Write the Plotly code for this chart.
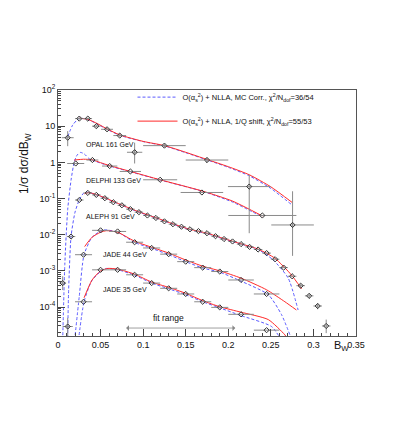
import plotly.graph_objects as go

# ---- data ----
# OPAL 161 GeV
opal_x = [0.0114, 0.025, 0.035, 0.045, 0.0576, 0.0725, 0.090, 0.125, 0.175, 0.2246, 0.2755]
opal_y = [4.8, 16.2, 16.2, 10.0, 8.2, 5.5, 1.9, 2.9, 1.16, 0.214, 0.0186]
opal_xerr = [0.007, 0.005, 0.005, 0.005, 0.007, 0.0075, 0.009, 0.025, 0.025, 0.025, 0.025]
opal_yup = [2.5, 1.0, 1.0, 0.8, 0.6, 0.4, 1.6, 0.3, 0.2, 0.24, 0.14]
opal_ydn = [2.0, 1.0, 1.0, 0.8, 0.6, 0.4, 0.97, 0.3, 0.2, 0.203, 0.016]

# DELPHI 133 GeV
delphi_x = [0.0208, 0.0404, 0.0607, 0.085, 0.120, 0.169, 0.240]
delphi_y = [0.93, 1.16, 0.79, 0.56, 0.33, 0.147, 0.034]
delphi_xerr = [0.01, 0.007, 0.009, 0.0125, 0.02, 0.025, 0.04]

# ALEPH 91 GeV
aleph_x = [0.0055, 0.0114, 0.0153, 0.025, 0.035, 0.045, 0.055, 0.065, 0.075, 0.085, 0.095,
           0.105, 0.115, 0.125, 0.135, 0.145, 0.155, 0.165, 0.175, 0.185, 0.195, 0.205,
           0.215, 0.225, 0.235, 0.245, 0.255, 0.265, 0.275, 0.285, 0.295, 0.305, 0.315]
aleph_y = [4.6e-4, 2.9e-5, 0.0089, 0.091, 0.143, 0.126, 0.102, 0.079, 0.065, 0.051, 0.042,
           0.034, 0.029, 0.0234, 0.0195, 0.0166, 0.0141, 0.0126, 0.011, 0.0091, 0.0076, 0.0065,
           0.0055, 0.0046, 0.0039, 0.0031, 0.0021, 0.00123, 0.00071, 0.00039, 2.04e-4, 1.07e-4, 3.0e-5]
aleph_xerr = [0.004, 0.006, 0.005, 0.005, 0.005, 0.005, 0.005, 0.005, 0.005, 0.005, 0.005,
              0.005, 0.005, 0.005, 0.005, 0.005, 0.005, 0.005, 0.005, 0.005, 0.005, 0.005,
              0.005, 0.005, 0.005, 0.005, 0.005, 0.005, 0.005, 0.005, 0.005, 0.005, 0.005]
aleph_yup = [2.5e-4, 2.1e-5, 0, 0, 0, 0, 0, 0, 0, 0, 0,
             0, 0, 0, 0, 0, 0, 0, 0, 0, 0, 0,
             0, 0, 0, 0, 0, 0, 0, 4e-5, 3e-5, 2e-5, 1.5e-5]
aleph_ydn = [1.65e-4, 1.3e-5, 0, 0, 0, 0, 0, 0, 0, 0, 0,
             0, 0, 0, 0, 0, 0, 0, 0, 0, 0, 0,
             0, 0, 0, 0, 0, 0, 0, 4e-5, 3e-5, 2e-5, 1.1e-5]

# JADE 44 / 35 GeV
jade_x = [0.03, 0.05, 0.07, 0.09, 0.11, 0.13, 0.15, 0.17, 0.19, 0.215, 0.245]
jade_xerr = [0.01, 0.01, 0.01, 0.01, 0.01, 0.01, 0.01, 0.01, 0.01, 0.015, 0.015]
jade44_y = [0.0028, 0.0132, 0.0123, 0.0062, 0.0043, 0.0029, 0.0018, 0.00123, 0.00096, 0.00056, 0.00023]
jade35_y = [1.4e-4, 1.07e-3, 1.07e-3, 7.8e-4, 4.6e-4, 3.3e-4, 2.3e-4, 1.4e-4, 9.8e-5, 6.3e-5, 2.3e-5]

# fit curves: O(as2)+NLLA, 1/Q shift (red)
opal_red_x = [0.025, 0.035, 0.047, 0.058, 0.0725, 0.1, 0.125, 0.15, 0.175, 0.2, 0.225, 0.25, 0.275]
opal_red_y = [16.6, 15.5, 11.5, 8.3, 5.75, 3.8, 2.9, 1.9, 1.2, 0.76, 0.45, 0.21, 0.078]
delphi_red_x = [0.019, 0.03, 0.04, 0.05, 0.06, 0.085, 0.12, 0.17, 0.205, 0.24]
delphi_red_y = [1.16, 1.22, 1.18, 0.98, 0.82, 0.56, 0.33, 0.16, 0.085, 0.033]
aleph_red_x = [0.031, 0.036, 0.045, 0.055, 0.075, 0.095, 0.115, 0.135, 0.155, 0.175, 0.195,
               0.215, 0.235, 0.2547, 0.274, 0.286]
aleph_red_y = [0.135, 0.146, 0.129, 0.105, 0.066, 0.043, 0.0295, 0.02, 0.0141, 0.011, 0.0078,
               0.0056, 0.004, 0.00224, 0.00078, 0.00032]
jade44_red_x = [0.0313, 0.04, 0.05, 0.0568, 0.07, 0.09, 0.11, 0.13, 0.15, 0.17, 0.19, 0.215,
                0.245, 0.2665, 0.280]
jade44_red_y = [0.0047, 0.0085, 0.0117, 0.0129, 0.0117, 0.0066, 0.0045, 0.0031, 0.002, 0.00135,
                0.001, 0.00063, 0.0003, 0.00014, 8.3e-5]
jade35_red_x = [0.0306, 0.04, 0.05, 0.0588, 0.07, 0.09, 0.11, 0.13, 0.15, 0.17, 0.19, 0.215,
                0.247, 0.2665, 0.272]
jade35_red_y = [1.8e-4, 5.6e-4, 1.0e-3, 1.17e-3, 1.12e-3, 8.1e-4, 4.9e-4, 3.5e-4, 2.4e-4, 1.5e-4,
                1.02e-4, 7.2e-5, 4.5e-5, 1.7e-5, 1.1e-5]

# fit curves: O(as2)+NLLA, MC corr. (blue dashed)
opal_blue_x = [0.0114, 0.0173, 0.025, 0.035, 0.047, 0.058, 0.0725, 0.1, 0.125, 0.15, 0.175,
               0.2, 0.225, 0.25, 0.275]
opal_blue_y = [5.1, 10.8, 16.5, 15.3, 11.2, 8.1, 5.6, 3.75, 2.85, 1.85, 1.17, 0.73, 0.42, 0.19, 0.066]
delphi_blue_x = [0.0055, 0.008, 0.0114, 0.0153, 0.019, 0.0225, 0.0265, 0.031, 0.0368, 0.045,
                 0.06, 0.085, 0.12, 0.17, 0.205, 0.24]
delphi_blue_y = [1.2e-5, 1.5e-3, 0.05, 0.32, 1.0, 1.6, 1.88, 1.7, 1.25, 1.05, 0.8, 0.55, 0.325,
                 0.158, 0.08, 0.031]
aleph_blue_x = [0.0112, 0.0125, 0.0153, 0.02, 0.025, 0.03, 0.034, 0.045, 0.055, 0.075, 0.095,
                0.115, 0.135, 0.155, 0.175, 0.195, 0.215, 0.235, 0.2528, 0.2704, 0.282]
aleph_blue_y = [1.0e-5, 3.0e-4, 0.0089, 0.042, 0.092, 0.14, 0.15, 0.127, 0.103, 0.065, 0.042,
                0.029, 0.0196, 0.0138, 0.0107, 0.0076, 0.0055, 0.0039, 0.002, 0.00063, 8.3e-5]
jade44_blue_x = [0.0195, 0.025, 0.0306, 0.04, 0.053, 0.07, 0.09, 0.11, 0.13, 0.15, 0.17, 0.19,
                 0.215, 0.247, 0.2625, 0.2724]
jade44_blue_y = [1.2e-5, 2.0e-4, 0.0028, 0.0085, 0.0135, 0.0118, 0.0061, 0.0042, 0.0028, 0.0018,
                 0.0012, 0.00092, 0.00052, 0.00022, 6.2e-5, 1.7e-5]
jade35_blue_x = [0.024, 0.0306, 0.04, 0.055, 0.07, 0.09, 0.11, 0.13, 0.15, 0.17, 0.19, 0.215,
                 0.2508, 0.2625]
jade35_blue_y = [1.2e-5, 1.4e-4, 5.5e-4, 1.15e-3, 1.08e-3, 7.6e-4, 4.6e-4, 3.2e-4, 2.2e-4, 1.4e-4,
                 9.5e-5, 5.8e-5, 2.9e-5, 1.2e-5]

# labels
set_labels = ['OPAL 161 GeV', 'DELPHI 133 GeV', 'ALEPH 91 GeV', 'JADE 44 GeV', 'JADE 35 GeV']
label_x = [0.0306, 0.0306, 0.0306, 0.051, 0.051]
label_logy = [0.5, -0.5, -1.5, -2.54, -3.52]
legend_blue = 'O(α<sub>s</sub><sup>2</sup>) + NLLA, MC Corr., χ<sup>2</sup>/N<sub>dof</sub>=36/54'
legend_red = 'O(α<sub>s</sub><sup>2</sup>) + NLLA, 1/Q shift, χ<sup>2</sup>/N<sub>dof</sub>=55/53'
fit_range = [0.08, 0.21]

x_ticks = [0, 0.05, 0.1, 0.15, 0.2, 0.25, 0.3, 0.35]
x_ticktext = ['0', '0.05', '0.1', '0.15', '0.2', '0.25', '0.3', '0.35']
y_ticks = [1e-4, 1e-3, 1e-2, 1e-1, 1, 10, 100]
y_ticktext = ['10<sup>-4</sup>', '10<sup>-3</sup>', '10<sup>-2</sup>', '10<sup>-1</sup>',
              '1', '10', '10<sup>2</sup>']

RED = '#ff2a2a'
BLUE = '#5a5aff'
FONT = 'Liberation Sans, Arial, sans-serif'

fig = go.Figure()

blue_curves = [(opal_blue_x, opal_blue_y), (delphi_blue_x, delphi_blue_y), (aleph_blue_x, aleph_blue_y),
               (jade44_blue_x, jade44_blue_y), (jade35_blue_x, jade35_blue_y)]
red_curves = [(opal_red_x, opal_red_y), (delphi_red_x, delphi_red_y), (aleph_red_x, aleph_red_y),
              (jade44_red_x, jade44_red_y), (jade35_red_x, jade35_red_y)]

for i, (cx, cy) in enumerate(blue_curves):
    fig.add_trace(go.Scatter(x=cx, y=cy, mode='lines',
                             line=dict(color=BLUE, width=1, dash='3px,2px', shape='spline', smoothing=0.6),
                             name=legend_blue, legendgroup='blue', showlegend=(i == 0)))
for i, (cx, cy) in enumerate(red_curves):
    fig.add_trace(go.Scatter(x=cx, y=cy, mode='lines',
                             line=dict(color=RED, width=1, shape='spline', smoothing=0.6),
                             name=legend_red, legendgroup='red', showlegend=(i == 0)))


def add_points(x, y, xerr, yup=None, ydn=None):
    ey = dict(visible=False)
    if yup is not None:
        ey = dict(type='data', symmetric=False, array=yup, arrayminus=ydn, color='#8a8a8a', thickness=1, width=0)
    fig.add_trace(go.Scatter(x=x, y=y, mode='markers', showlegend=False,
                             marker=dict(symbol='diamond-open', size=4, color='#333333', line=dict(width=1)),
                             error_x=dict(type='data', array=xerr, color='#8a8a8a', thickness=1, width=0),
                             error_y=ey))


add_points(opal_x, opal_y, opal_xerr, opal_yup, opal_ydn)
add_points(delphi_x, delphi_y, delphi_xerr)
add_points(aleph_x, aleph_y, aleph_xerr, aleph_yup, aleph_ydn)
add_points(jade_x, jade44_y, jade_xerr)
add_points(jade_x, jade35_y, jade_xerr)

for txt, lx, ly in zip(set_labels, label_x, label_logy):
    fig.add_annotation(x=lx, y=ly, text=txt, showarrow=False, xanchor='left', yanchor='middle',
                       font=dict(family=FONT, size=7, color='#111111'))

# fit range arrow
fig.add_annotation(x=fit_range[0], y=-4.58, ax=fit_range[1], ay=-4.58, axref='x', ayref='y',
                   text='', showarrow=True, arrowside='end+start', arrowhead=1, arrowsize=1.2,
                   arrowwidth=0.8, arrowcolor='#888888')
fig.add_annotation(x=0.13, y=-4.3, text='fit range', showarrow=False,
                   font=dict(family=FONT, size=8.5, color='#111111'))

# axis titles
fig.add_annotation(xref='paper', yref='paper', x=-0.11, y=0.7, xanchor='center', yanchor='middle',
                   text='1/σ dσ/dB<sub>W</sub>', textangle=-90, showarrow=False,
                   font=dict(family=FONT, size=12, color='#111111'))
fig.add_annotation(xref='paper', yref='paper', x=0.953, y=-0.005, xanchor='center', yanchor='top',
                   text='B<sub>W</sub>', showarrow=False, font=dict(family=FONT, size=11, color='#111111'))

minor_y = [m * 10 ** e for e in range(-5, 2) for m in range(2, 10)]

fig.update_layout(
    width=409, height=436,
    margin=dict(l=50, r=61, t=82, b=108),
    plot_bgcolor='white', paper_bgcolor='white',
    font=dict(family=FONT, color='#111111'),
    legend=dict(x=0.25, y=1.03, xanchor='left', yanchor='top', bgcolor='rgba(0,0,0,0)',
                font=dict(family=FONT, size=7.5), tracegroupgap=5, itemwidth=40),
    xaxis=dict(range=[0, 0.35], tickvals=x_ticks, ticktext=x_ticktext, ticks='inside', ticklen=7,
               tickcolor='#444444', showgrid=False, zeroline=False, showline=True, mirror=True,
               linecolor='#555555', linewidth=1, tickfont=dict(size=9),
               minor=dict(dtick=0.01, ticks='inside', ticklen=3, tickcolor='#444444', showgrid=False)),
    yaxis=dict(type='log', range=[-4.8, 2], tickvals=y_ticks, ticktext=y_ticktext, ticks='inside',
               ticklen=7, tickcolor='#444444', showgrid=False, zeroline=False, showline=True, mirror=True,
               linecolor='#555555', linewidth=1, tickfont=dict(size=9),
               minor=dict(tickvals=minor_y, ticks='inside', ticklen=3, tickcolor='#444444', showgrid=False)),
)

fig.write_html("out.html")
